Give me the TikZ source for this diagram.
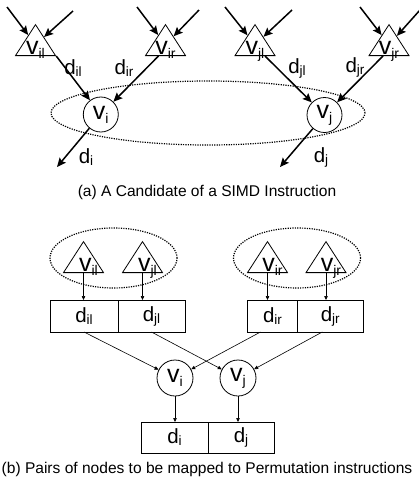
\documentclass[tikz,border=0pt]{standalone}
\usepackage{fontspec}
\setmainfont{Liberation Sans}
\usetikzlibrary{shapes.geometric,arrows.meta,positioning}
\newcommand{\vsub}[1]{{\fontsize{25}{25}\selectfont v}\raisebox{-4pt}{\fontsize{14}{14}\selectfont #1}}
\newcommand{\dsub}[1]{{\fontsize{20.5}{20.5}\selectfont d}\raisebox{-2pt}{\fontsize{13.5}{13.5}\selectfont #1}}
\tikzset{
  tri/.style={draw, line width=0.8pt, isosceles triangle, shape border rotate=90,
    isosceles triangle stretches, minimum width=40pt, minimum height=31pt, inner sep=0pt},
  op/.style={draw, circle, line width=0.8pt, minimum size=35pt, inner sep=0pt},
  reg/.style={draw, rectangle, line width=0.8pt, minimum height=32pt, inner sep=0pt, outer sep=0pt},
  grp/.style={line width=1.2pt, dash pattern=on 1.2pt off 1.2pt},
  flow/.style={-{Stealth[length=9pt,width=8pt,inset=1.5pt]}, line width=1.5pt},
  perm/.style={-{Triangle[length=4pt,width=3.5pt]}, line width=0.6pt},
  vname/.style={anchor=base, inner sep=0pt},
  dname/.style={inner sep=0pt},
  capt/.style={font=\fontsize{15.55}{18}\selectfont, inner sep=0pt}
}
\begin{document}
\begin{tikzpicture}[x=1pt,y=-1pt]
\useasboundingbox (0,0) rectangle (419,485);
% (a) candidate
\draw[grp] (208,113) ellipse [x radius=157pt, y radius=32pt];
\node[tri, anchor=lower side] (til) at (35.5,56) {};
\node[tri, anchor=lower side] (tir) at (165.5,56) {};
\node[tri, anchor=lower side] (tjl) at (255,56) {};
\node[tri, anchor=lower side] (tjr) at (389,56) {};
\node[vname] (nil) at ([yshift=2pt]til.lower side) {\vsub{il}};
\node[vname] (nir) at ([yshift=2pt]tir.lower side) {\vsub{ir}};
\node[vname] (njl) at ([yshift=2pt]tjl.lower side) {\vsub{jl}};
\node[vname] (njr) at ([yshift=2pt]tjr.lower side) {\vsub{jr}};
\node[op] (vi) at (100.8,114.5) {\vsub{i}};
\node[op] (vj) at (324.5,115) {\vsub{j}};
\coordinate (a1) at (7,7);   \coordinate (a2) at (73,11);
\coordinate (a3) at (137,7); \coordinate (a4) at (199,10);
\coordinate (a5) at (225,7); \coordinate (a6) at (292,10);
\coordinate (a7) at (360,7); \coordinate (a8) at (420,10);
\coordinate (oi) at (57,167); \coordinate (oj) at (280,167);
\draw[flow] (a1) -- (til);
\draw[flow] (a2) -- (til);
\draw[flow] (a3) -- (tir);
\draw[flow] (a4) -- (tir);
\draw[flow] (a5) -- (tjl);
\draw[flow] (a6) -- (tjl);
\draw[flow] (a7) -- (tjr);
\draw[flow] (a8) -- (tjr);
\draw[flow] (til.right corner) -- (vi);
\draw[flow] ([xshift=-7pt]tir.lower side) -- (vi);
\draw[flow] ([xshift=10pt]tjl.lower side) -- (vj);
\draw[flow] ([xshift=-6pt]tjr.lower side) -- (vj);
\draw[flow] (vi) -- (oi);
\draw[flow] (vj) -- (oj);
\node[dname] (lil) at (73,68) {\dsub{il}};
\node[dname] (lir) at (124,68) {\dsub{ir}};
\node[dname] (ljl) at (297,68) {\dsub{jl}};
\node[dname] (ljr) at (355,67) {\dsub{jr}};
\node[dname] (li) at (86,157) {\dsub{i}};
\node[dname] (lj) at (321,157) {\dsub{j}};
\node[capt] (capa) at (207,192) {(a) A Candidate of a SIMD Instruction};

% (b) permutation pairs
\draw[grp] (113.5,258) ellipse [x radius=63.5pt, y radius=30pt];
\draw[grp] (297,258) ellipse [x radius=63.5pt, y radius=30pt];
\node[tri, anchor=lower side] (sil) at (83.5,273) {};
\node[tri, anchor=lower side] (sjl) at (142.5,273) {};
\node[tri, anchor=lower side] (sir) at (267.5,273) {};
\node[tri, anchor=lower side] (sjr) at (326,273) {};
\node[vname] (mil) at ([xshift=5pt,yshift=1.5pt]sil.lower side) {\vsub{il}};
\node[vname] (mjl) at ([xshift=5pt,yshift=1.5pt]sjl.lower side) {\vsub{jl}};
\node[vname] (mir) at ([xshift=5pt,yshift=1.5pt]sir.lower side) {\vsub{ir}};
\node[vname] (mjr) at ([xshift=5pt,yshift=1.5pt]sjr.lower side) {\vsub{jr}};
\node[reg, minimum width=68pt] (bil) at (84,316) {\dsub{il}};
\node[reg, minimum width=67pt, right=0pt of bil] (bjl) {\dsub{jl}};
\node[reg, minimum width=49.5pt] (bir) at (272.5,316) {\dsub{ir}};
\node[reg, minimum width=66pt, right=0pt of bir] (bjr) {\dsub{jr}};
\node[op, minimum size=36pt] (ui) at (175,378) {\vsub{i}};
\node[op, minimum size=36pt] (uj) at (238,378) {\vsub{j}};
\node[reg, minimum width=67pt, minimum height=31pt] (bi) at (174.5,437.5) {\dsub{i}};
\node[reg, minimum width=66pt, minimum height=31pt, right=0pt of bi] (bj) {\dsub{j}};
\draw[perm] (sil) -- (sil |- bil.north);
\draw[perm] (sjl) -- (sjl |- bjl.north);
\draw[perm] (sir) -- (sir |- bir.north);
\draw[perm] (sjr) -- (sjr |- bjr.north);
\draw[perm] (bil.south) -- (ui);
\draw[perm] (bjl.south) -- (uj);
\draw[perm] ([xshift=-12pt]bir.south) -- (ui);
\draw[perm] ([xshift=-8pt]bjr.south) -- (uj);
\draw[perm] (ui) -- (ui |- bi.north);
\draw[perm] (uj) -- (uj |- bj.north);
\node[capt] (capb) at (207,469) {(b) Pairs of nodes to be mapped to Permutation instructions};
\end{tikzpicture}
\end{document}
